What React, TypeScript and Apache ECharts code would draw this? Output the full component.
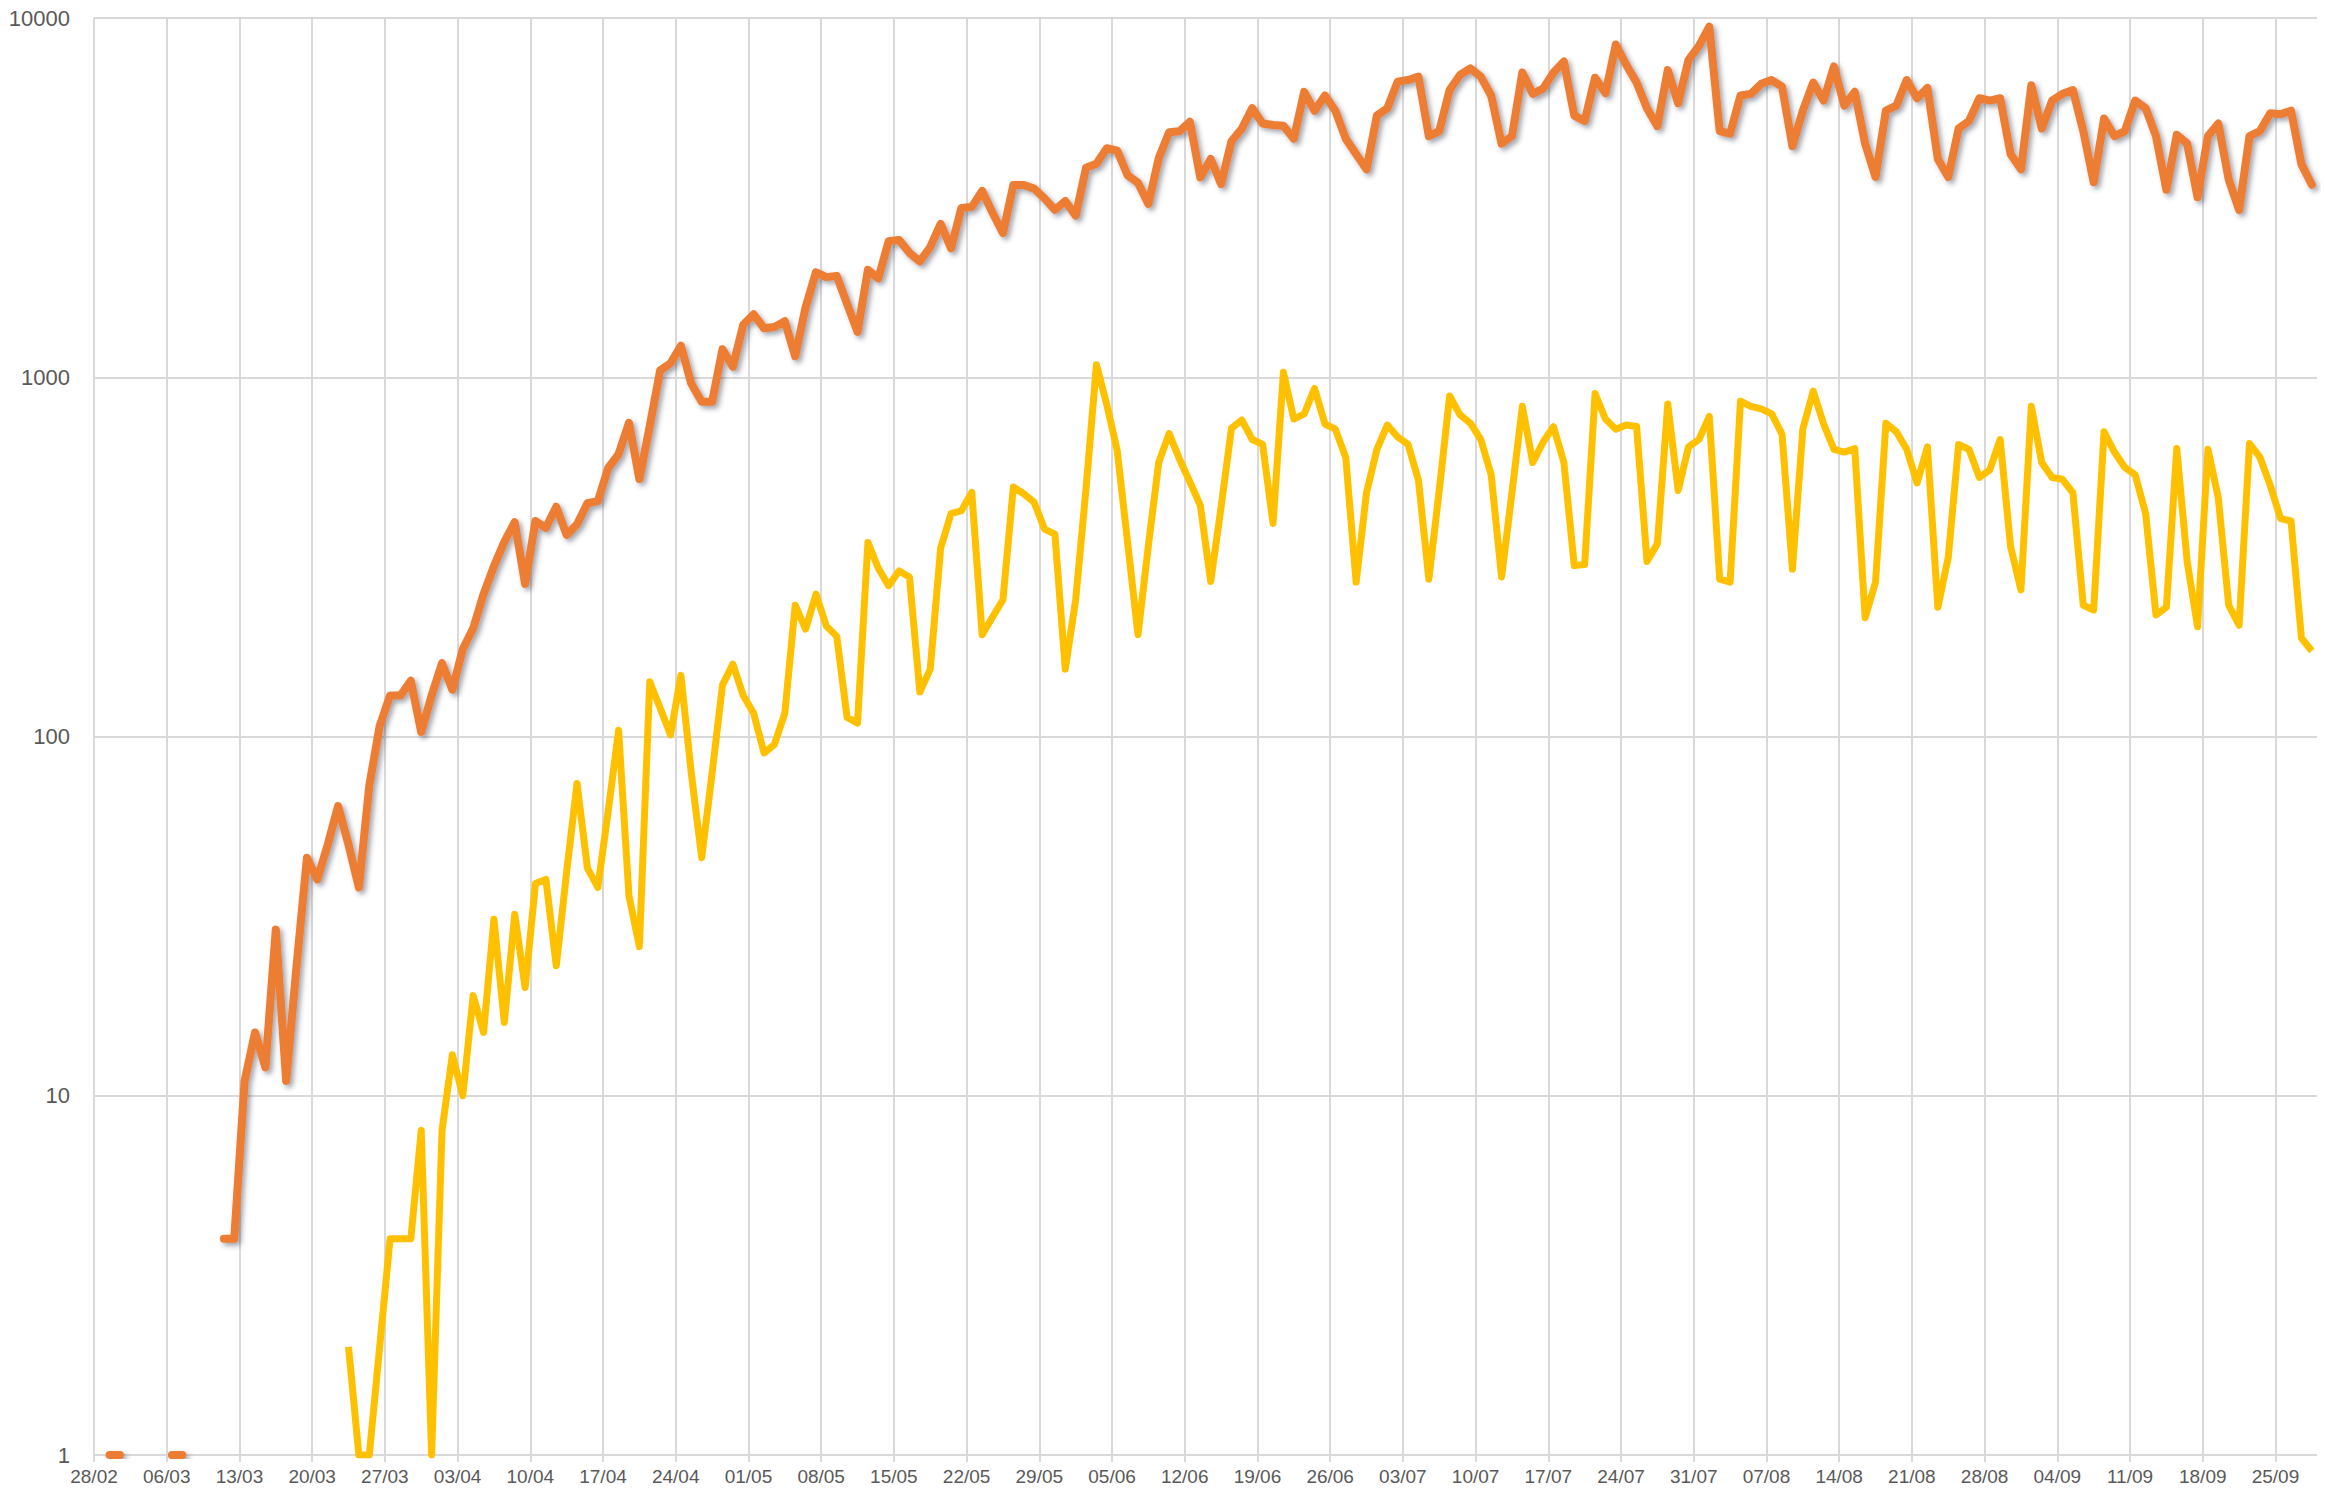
import React, { useEffect, useRef } from "react";
import * as echarts from "echarts";

// Week tick labels (one every 7 days, starting 28/02/2020)
const tickLabels: string[] = [
  "28/02", "06/03", "13/03", "20/03", "27/03", "03/04", "10/04", "17/04",
  "24/04", "01/05", "08/05", "15/05", "22/05", "29/05", "05/06", "12/06",
  "19/06", "26/06", "03/07", "10/07", "17/07", "24/07", "31/07", "07/08",
  "14/08", "21/08", "28/08", "04/09", "11/09", "18/09", "25/09",
];

const DAYS_PER_TICK = 7;
const TOTAL_DAYS = 214; // 28/02 .. 29/09 (day slots)

// Orange series (daily values, day 0 = 28/02)
const orangeValues: (number | null)[] = [
  null, 1, 1, null, null, null, null, 1, 1, null,
  null, null, 4, 4, 11, 15, 12, 29, 11, 23,
  46, 40, 50, 64, 50, 38, 73, 107, 130, 130,
  143, 103, 130, 160, 135, 175, 200, 249, 298, 348,
  395, 266, 398, 381, 436, 364, 390, 446, 452, 559,
  611, 747, 521, 731, 1045, 1094, 1224, 960, 855, 855,
  1197, 1070, 1400, 1497, 1369, 1380, 1432, 1144, 1566, 1960,
  1900, 1915, 1600, 1337, 1990, 1883, 2393, 2410, 2220, 2100,
  2305, 2673, 2286, 2958, 2980, 3300, 2870, 2520, 3428, 3428,
  3350, 3148, 2925, 3093, 2818, 3830, 3930, 4340, 4275, 3650,
  3480, 3037, 4075, 4810, 4840, 5140, 3600, 4050, 3450, 4540,
  4925, 5610, 5085, 5035, 5010, 4615, 6230, 5520, 6085, 5520,
  4615, 4180, 3790, 5350, 5610, 6650, 6720, 6870, 4690, 4845,
  6300, 6940, 7240, 6870, 6085, 4470, 4690, 7050, 6150, 6360,
  7050, 7570, 5350, 5170, 6820, 6180, 8440, 7410, 6610, 5610,
  5000, 7160, 5790, 7650, 8360, 9460, 4845, 4765, 6085, 6150,
  6560, 6720, 6440, 4400, 5520, 6610, 5890, 7330, 5700, 6230,
  4470, 3610, 5520, 5700, 6720, 5980, 6390, 4050, 3610, 4925,
  5170, 5980, 5890, 5980, 4180, 3790, 6500, 4925, 5890, 6150,
  6300, 4845, 3490, 5250, 4690, 4845, 5890, 5610, 4690, 3325,
  4730, 4470, 3170, 4690, 5085, 3550, 2920, 4690, 4845, 5430,
  5400, 5520, 3920, 3435,
];

// Yellow series (daily values, day 0 = 28/02)
const yellowValues: (number | null)[] = [
  null, null, null, null, null, null, null, null, null, null,
  null, null, null, null, null, null, null, null, null, null,
  null, null, null, null, 2, 1, 1, 2, 4, 4,
  4, 8, 1, 8, 13, 10, 19, 15, 31, 16,
  32, 20, 39, 40, 23, 42, 74, 43, 38, 62,
  104, 36, 26, 142, 120, 101, 148, 79, 46, 79,
  139, 159, 130, 116, 90, 95, 116, 232, 199, 249,
  203, 190, 113, 109, 347, 294, 263, 289, 278, 133,
  154, 334, 417, 425, 478, 192, 215, 240, 495, 474,
  449, 378, 366, 154, 240, 490, 1084, 838, 625, 347,
  192, 340, 580, 697, 591, 511, 440, 270, 435, 721,
  760, 671, 650, 392, 1033, 765, 791, 931, 741, 717,
  598, 269, 477, 630, 736, 682, 650, 517, 274, 484,
  887, 786, 745, 671, 535, 278, 477, 830, 579, 660,
  728, 579, 299, 301, 901, 765, 717, 736, 729, 307,
  344, 843, 484, 640, 671, 778, 274, 269, 858, 830,
  817, 791, 694, 292, 717, 915, 741, 630, 619, 633,
  214, 269, 745, 705, 630, 508, 640, 229, 315, 650,
  630, 526, 552, 671, 338, 256, 830, 579, 526, 520,
  477, 232, 225, 705, 619, 561, 535, 418, 218, 229,
  633, 307, 202, 630, 461, 232, 204, 654, 599, 500,
  404, 398, 188, 173,
];

const toPoints = (vals: (number | null)[]) =>
  vals.map((v, i) => [i + 0.5, v === null ? "-" : v]);

const GRID_COLOR = "#d9d9d9";
const TEXT_COLOR = "#595959";

export default function App() {
  const ref = useRef<HTMLDivElement>(null);

  useEffect(() => {
    if (!ref.current) return;
    const chart = echarts.init(ref.current, undefined, { renderer: "svg" });
    const option: any = {
      animation: false,
      backgroundColor: "#ffffff",
      grid: { left: 94, right: 8, top: 18, bottom: 33, containLabel: false },
      xAxis: {
        type: "value",
        min: 0,
        max: TOTAL_DAYS,
        interval: DAYS_PER_TICK,
        axisLine: { show: false },
        axisTick: {
          show: true,
          length: 7,
          lineStyle: { color: GRID_COLOR, width: 2 },
        },
        axisLabel: {
          showMaxLabel: false,
          color: TEXT_COLOR,
          fontSize: 19,
          fontFamily: '"Liberation Sans Narrow", "Liberation Sans", Arial, sans-serif',
          margin: 12,
          formatter: (v: number) =>
            v % DAYS_PER_TICK === 0 ? tickLabels[v / DAYS_PER_TICK] ?? "" : "",
        },
        splitLine: {
          show: true,
          showMaxLine: false,
          lineStyle: { color: GRID_COLOR, width: 2 },
        },
      },
      yAxis: {
        type: "log",
        logBase: 10,
        min: 1,
        max: 10000,
        axisLine: { show: false },
        axisTick: { show: false },
        axisLabel: {
          color: TEXT_COLOR,
          fontSize: 22,
          fontFamily: '"Liberation Sans", Arial, sans-serif',
          margin: 24,
          formatter: (v: number) => String(Math.round(v)),
        },
        splitLine: { show: true, lineStyle: { color: GRID_COLOR, width: 2 } },
        minorSplitLine: { show: false },
      },
      series: [
        {
          name: "yellow",
          type: "line",
          data: toPoints(yellowValues),
          showSymbol: false,
          symbol: "none",
          connectNulls: false,
          clip: true,
          z: 2,
          lineStyle: { color: "#FFC000", width: 7, join: "round", cap: "butt" },
          itemStyle: { color: "#FFC000" },
        },
        {
          name: "orange",
          type: "line",
          data: toPoints(orangeValues),
          showSymbol: false,
          symbol: "none",
          connectNulls: false,
          clip: true,
          z: 3,
          lineStyle: {
            color: "#ED7D31",
            width: 8,
            join: "round",
            cap: "round",
            shadowColor: "rgba(50,60,80,0.45)",
            shadowBlur: 5,
            shadowOffsetX: 3,
            shadowOffsetY: 3,
          },
          itemStyle: { color: "#ED7D31" },
        },
      ],
    };
    chart.setOption(option);
    return () => chart.dispose();
  }, []);

  return (
    <div
      ref={ref}
      style={{ position: "absolute", left: 0, top: 0, width: 2325, height: 1488 }}
    />
  );
}
